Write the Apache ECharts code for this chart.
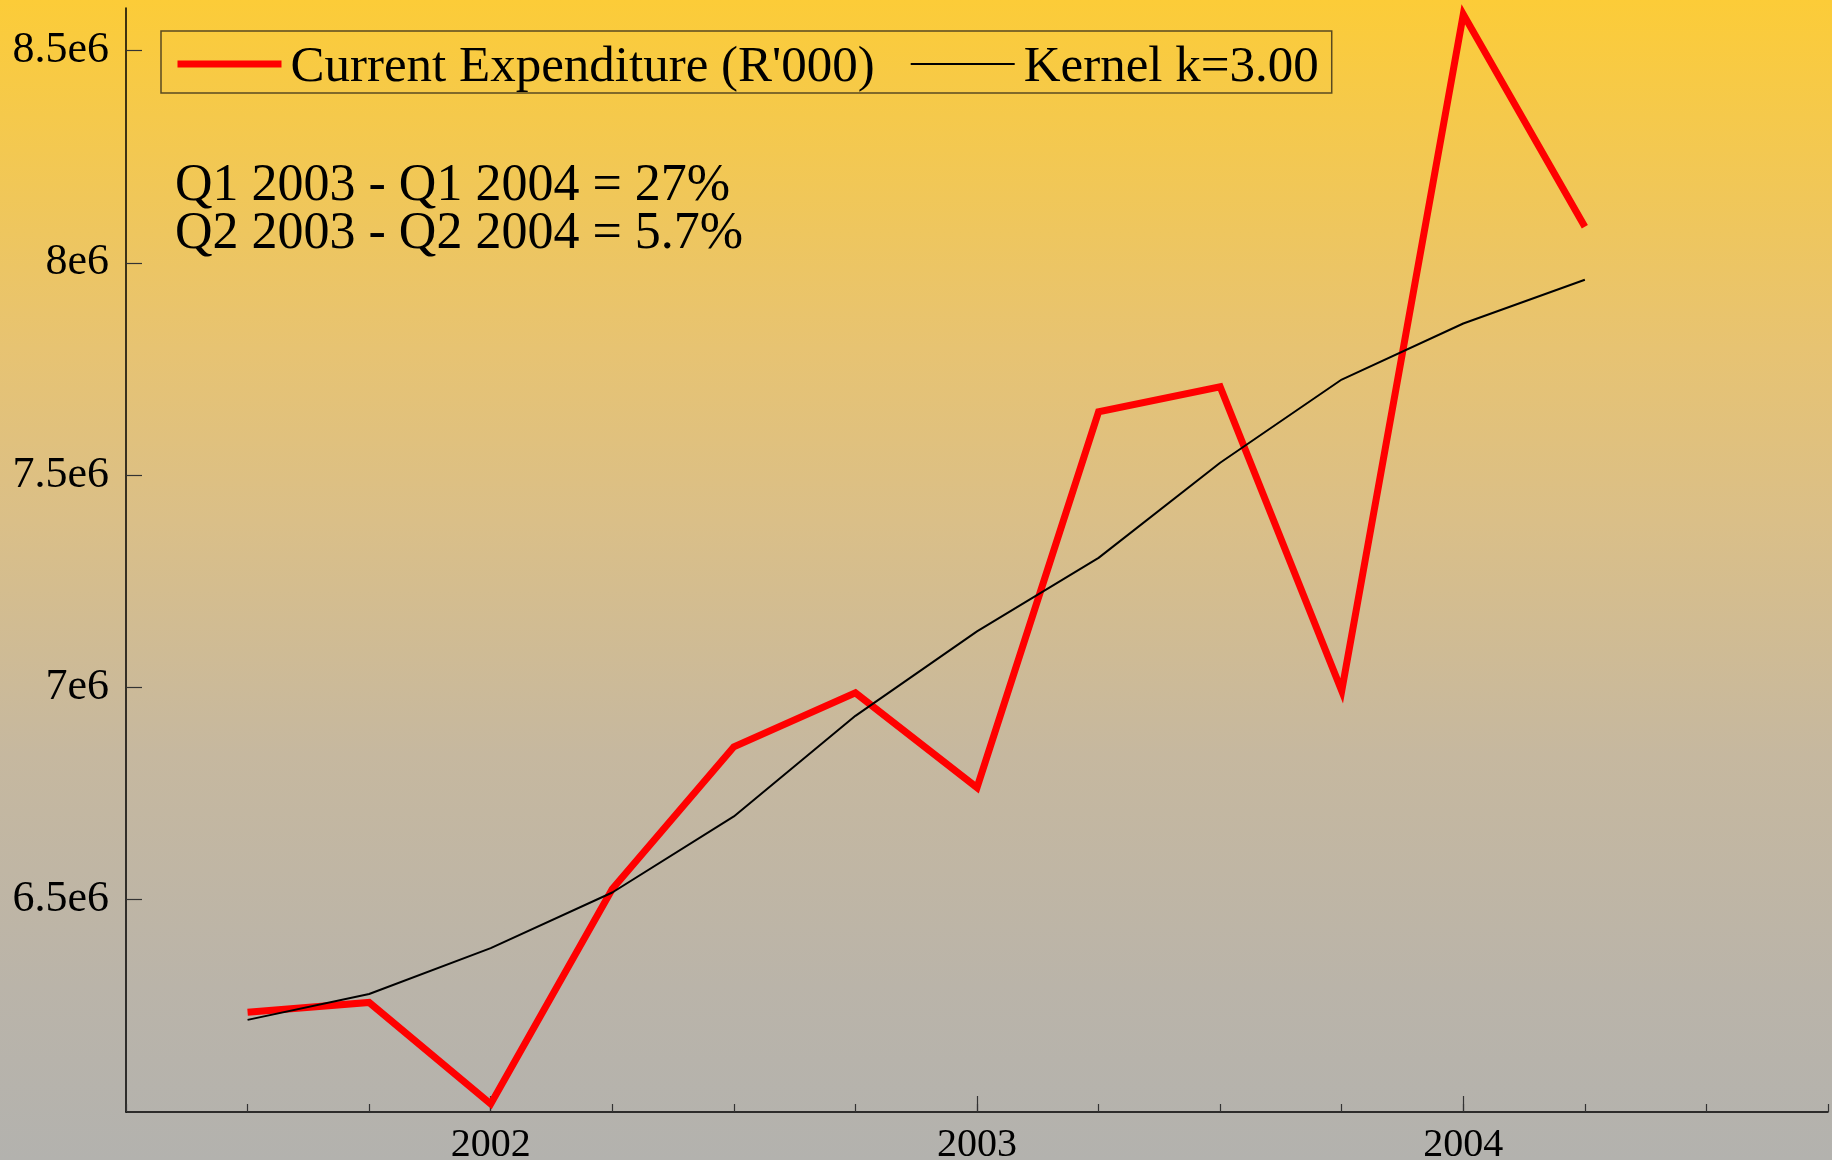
<!DOCTYPE html>
<html>
<head>
<meta charset="utf-8">
<title>Current Expenditure</title>
<script src="https://cdn.jsdelivr.net/npm/echarts@6/dist/echarts.min.js"></script>
<style>
    html, body { margin: 0; padding: 0; }
    #chart { width: 1832px; height: 1160px; }
</style>
</head>
<body>
<div id="chart"></div>
<script>
// quarter positions as decimal years
var quarters = [2001.5, 2001.75, 2002, 2002.25, 2002.5, 2002.75, 2003, 2003.25, 2003.5, 2003.75, 2004, 2004.25];
var expenditure = [6235000, 6258000, 6019000, 6525000, 6860000, 6987000, 6764000, 7649000, 7708000, 6992000, 8585000, 8085000];
var kernel = [6217000, 6278000, 6386000, 6517000, 6696000, 6933000, 7132000, 7305000, 7529000, 7725000, 7857000, 7960000];
var yearTicks = [2002, 2003, 2004];
var yTicks = [6500000, 7000000, 7500000, 8000000, 8500000];
var notes = ['Q1 2003 - Q1 2004 = 27%', 'Q2 2003 - Q2 2004 = 5.7%'];

var serif = 'Liberation Serif';

function pairs(values) {
    return quarters.map(function (q, i) {
        return [q, values[i]];
    });
}

var myChart = echarts.init(document.getElementById('chart'));

var option = {
    animation: false,
    backgroundColor: {
        type: 'linear',
        x: 0,
        y: 0,
        x2: 0,
        y2: 1,
        colorStops: [
            {offset: 0, color: '#fccc38'},
            {offset: 0.3, color: '#e7c372'},
            {offset: 0.45, color: '#dabf88'},
            {offset: 0.65, color: '#c6b89f'},
            {offset: 0.85, color: '#bab4a9'},
            {offset: 1, color: '#b3b2ae'}
        ]
    },
    textStyle: {
        fontFamily: serif
    },
    title: {
        text: notes.join('\n'),
        left: 175,
        top: 162,
        padding: 0,
        textStyle: {
            fontFamily: serif,
            fontSize: 52,
            lineHeight: 48,
            fontWeight: 'normal',
            color: '#000'
        }
    },
    legend: {
        left: 161,
        top: 31,
        padding: [4, 13, 0, 13],
        itemGap: 35,
        itemWidth: 104,
        itemHeight: 20,
        borderColor: '#5a4a20',
        borderWidth: 1.5,
        formatter: function (name) {
            return '{t|' + name + '}';
        },
        textStyle: {
            fontFamily: serif,
            fontSize: 51,
            color: '#000',
            rich: {
                t: {
                    fontFamily: serif,
                    fontSize: 51,
                    lineHeight: 44,
                    color: '#000',
                    padding: [7, 0, 0, 4]
                }
            }
        },
        data: [
            {
                name: "Current Expenditure (R'000)",
                itemStyle: {opacity: 0},
                lineStyle: {color: '#ff0000', width: 7}
            },
            {
                name: 'Kernel k=3.00',
                itemStyle: {opacity: 0},
                lineStyle: {color: '#000000', width: 2}
            }
        ]
    },
    grid: {
        left: 126,
        top: 8,
        right: 4,
        bottom: 48,
        outerBoundsMode: 'none'
    },
    xAxis: [
        {
            type: 'value',
            min: 2001.25,
            max: 2004.75,
            interval: 0.25,
            position: 'bottom',
            axisLine: {
                lineStyle: {color: '#000', width: 1.5}
            },
            axisTick: {
                inside: true,
                length: 8,
                lineStyle: {color: '#333', width: 1.2}
            },
            axisLabel: {
                margin: 13,
                fontFamily: serif,
                fontSize: 40,
                color: '#000',
                formatter: function (v) {
                    return yearTicks.indexOf(v) >= 0 ? String(v) : '';
                }
            },
            splitLine: {show: false}
        },
        {
            type: 'value',
            min: 2001.25,
            max: 2004.75,
            position: 'bottom',
            axisLine: {show: false},
            axisTick: {
                inside: true,
                length: 16,
                customValues: yearTicks,
                lineStyle: {color: '#333', width: 1.2}
            },
            axisLabel: {show: false},
            splitLine: {show: false}
        }
    ],
    yAxis: {
        type: 'value',
        min: 6000000,
        max: 8600000,
        interval: 500000,
        axisLine: {
            show: true,
            lineStyle: {color: '#000', width: 1.5}
        },
        axisTick: {
            show: true,
            inside: true,
            length: 16,
            customValues: yTicks,
            lineStyle: {color: '#333', width: 1.2}
        },
        axisLabel: {
            margin: 17,
            fontFamily: serif,
            fontSize: 44,
            color: '#000',
            customValues: yTicks,
            formatter: function (v) {
                return (v / 1000000) + 'e6';
            }
        },
        splitLine: {show: false}
    },
    series: [
        {
            name: "Current Expenditure (R'000)",
            type: 'line',
            data: pairs(expenditure),
            symbol: 'none',
            clip: false,
            lineStyle: {
                color: '#ff0000',
                width: 7,
                join: 'miter',
                miterLimit: 10,
                cap: 'butt'
            },
            itemStyle: {color: '#ff0000'}
        },
        {
            name: 'Kernel k=3.00',
            type: 'line',
            data: pairs(kernel),
            symbol: 'none',
            lineStyle: {
                color: '#000000',
                width: 2
            },
            itemStyle: {color: '#000000'}
        }
    ]
};

myChart.setOption(option);
</script>
</body>
</html>
